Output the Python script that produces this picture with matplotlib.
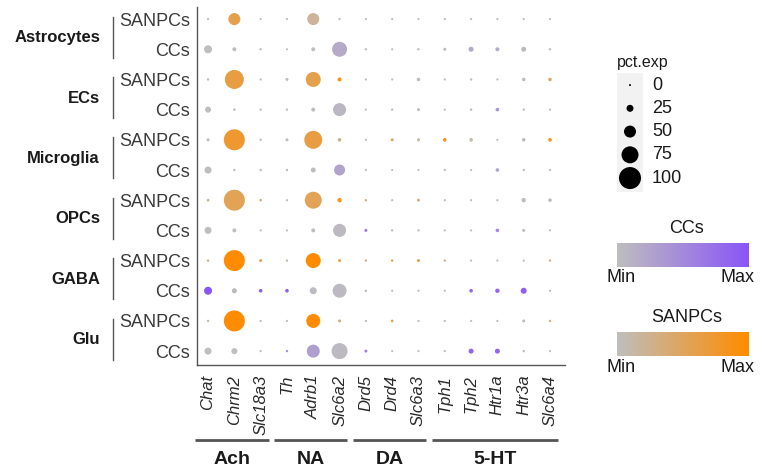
import numpy as np
import matplotlib
matplotlib.use("Agg")
import matplotlib.pyplot as plt
from matplotlib.colors import LinearSegmentedColormap
from matplotlib.transforms import blended_transform_factory

plt.rcParams['font.family'] = ['Liberation Sans', 'DejaVu Sans']

# data
cell_types = ["Astrocytes", "ECs", "Microglia", "OPCs", "GABA", "Glu"]
conditions = ["SANPCs", "CCs"]
genes = ["Chat", "Chrm2", "Slc18a3", "Th", "Adrb1", "Slc6a2", "Drd5", "Drd4",
         "Slc6a3", "Tph1", "Tph2", "Htr1a", "Htr3a", "Slc6a4"]
gene_groups = [("Ach", 0, 2), ("NA", 3, 5), ("DA", 6, 8), ("5-HT", 9, 13)]

# percent of cells expressing (rows follow cell_types)
pct_sanpcs = [
    [1, 50, 1, 1, 50, 1, 1, 1, 1, 1, 1, 1, 1, 1],
    [2, 85, 1, 5, 65, 10, 1, 1, 8, 1, 2, 1, 8, 8],
    [5, 95, 2, 5, 80, 8, 1, 5, 5, 8, 8, 1, 8, 8],
    [3, 95, 3, 1, 75, 12, 2, 1, 5, 1, 1, 1, 12, 8],
    [2, 95, 5, 2, 65, 5, 2, 2, 5, 2, 1, 1, 1, 2],
    [2, 95, 1, 1, 60, 5, 1, 3, 1, 1, 1, 1, 5, 2],
]
pct_ccs = [
    [30, 10, 2, 1, 10, 65, 2, 1, 2, 5, 15, 10, 15, 2],
    [20, 3, 2, 2, 10, 55, 1, 2, 5, 1, 2, 8, 2, 1],
    [25, 2, 2, 2, 15, 45, 1, 1, 1, 2, 1, 8, 2, 1],
    [25, 10, 1, 1, 10, 55, 5, 2, 2, 1, 1, 8, 5, 1],
    [30, 15, 8, 8, 25, 60, 2, 1, 1, 1, 8, 12, 20, 1],
    [25, 20, 1, 2, 55, 70, 5, 1, 1, 1, 15, 15, 2, 1],
]
# scaled average expression (0 = min, 1 = max)
expr_sanpcs = [
    [0.0, 0.6, 0.0, 0.0, 0.2, 0.05, 0.0, 0.0, 0.0, 0.0, 0.0, 0.0, 0.0, 0.0],
    [0.05, 0.65, 0.05, 0.05, 0.6, 0.9, 0.05, 0.05, 0.0, 0.05, 0.05, 0.05, 0.0, 0.4],
    [0.05, 0.75, 0.05, 0.05, 0.65, 0.3, 0.05, 0.5, 0.1, 0.9, 0.1, 0.05, 0.05, 0.9],
    [0.3, 0.55, 0.3, 0.05, 0.55, 0.85, 0.3, 0.05, 0.3, 0.05, 0.05, 0.05, 0.0, 0.05],
    [0.3, 1.0, 0.6, 0.1, 1.0, 0.6, 0.3, 0.7, 0.6, 0.3, 0.05, 0.05, 0.05, 0.3],
    [0.1, 1.0, 0.1, 0.05, 1.0, 0.4, 0.1, 0.7, 0.05, 0.05, 0.05, 0.05, 0.0, 0.3],
]
expr_ccs = [
    [0.0, 0.0, 0.0, 0.0, 0.0, 0.18, 0.0, 0.0, 0.0, 0.05, 0.2, 0.2, 0.03, 0.0],
    [0.0, 0.0, 0.0, 0.0, 0.0, 0.08, 0.0, 0.0, 0.0, 0.0, 0.05, 0.4, 0.0, 0.0],
    [0.0, 0.0, 0.0, 0.0, 0.0, 0.25, 0.0, 0.0, 0.0, 0.0, 0.0, 0.25, 0.0, 0.0],
    [0.0, 0.0, 0.0, 0.0, 0.0, 0.05, 0.7, 0.0, 0.0, 0.0, 0.0, 0.5, 0.05, 0.0],
    [1.0, 0.05, 0.9, 0.9, 0.05, 0.05, 0.1, 0.0, 0.0, 0.0, 0.8, 0.85, 0.9, 0.05],
    [0.0, 0.0, 0.0, 0.5, 0.3, 0.05, 0.6, 0.0, 0.0, 0.0, 0.85, 0.85, 0.05, 0.0],
]
legend_pct = [0, 25, 50, 75, 100]

W, H = 767, 472
fig = plt.figure(figsize=(W / 100, H / 100), dpi=100)


def fx(px):
    return px / W


def fy(py):
    return 1 - py / H


def dot_size(p):
    # diameter grows linearly with pct (like scale_radius)
    return ((2 + 0.2 * np.asarray(p, dtype=float)) * 0.72) ** 2


cmap_cc = LinearSegmentedColormap.from_list("cc", ["#BEBEBE", "#8A55F7"])
cmap_sa = LinearSegmentedColormap.from_list("sa", ["#BEBEBE", "#FF8C00"])

ax = fig.add_axes([fx(197), fy(365), fx(565) - fx(197), fy(7) - fy(365)])
xs = np.arange(len(genes))
for i in range(len(cell_types)):
    for j, (pct, expr, cmap) in enumerate([(pct_sanpcs, expr_sanpcs, cmap_sa),
                                           (pct_ccs, expr_ccs, cmap_cc)]):
        y = 2 * i + j
        ax.scatter(xs, np.full(len(genes), y), s=dot_size(pct[i]),
                   c=cmap(np.array(expr[i])), linewidths=0, zorder=3)

ax.set_xlim(-0.42, 13.57)
ax.set_ylim(11.46, -0.4)
ax.set_yticks(range(2 * len(cell_types)))
ax.set_yticklabels(conditions * len(cell_types), fontsize=13, color="#3a3a3a")
ax.set_xticks(xs)
ax.set_xticklabels(genes, rotation=90, fontsize=12, style="italic",
                   color="#2a2a2a", va="top", ha="center")
ax.tick_params(axis="y", length=0, pad=5)
ax.tick_params(axis="x", length=0, pad=7)
for side in ["top", "right"]:
    ax.spines[side].set_visible(False)
for side in ["left", "bottom"]:
    ax.spines[side].set_color("#555555")
    ax.spines[side].set_linewidth(1)

# cell type labels with brackets
trans = blended_transform_factory(fig.transFigure, ax.transData)
for i, ct in enumerate(cell_types):
    ax.text(fx(100), 2 * i + 0.62, ct, transform=trans, ha="right", va="center",
            fontsize=12, fontweight="bold", color="#1a1a1a")
    ax.plot([fx(113), fx(113)], [2 * i - 0.08, 2 * i + 1.28], transform=trans,
            color="#555555", lw=1, clip_on=False)

# gene group bars
trans2 = blended_transform_factory(ax.transData, fig.transFigure)
for name, s, e in gene_groups:
    x0, x1 = s - 0.48, e + 0.3
    ax.plot([x0, x1], [fy(440), fy(440)], transform=trans2, color="#555555",
            lw=2, clip_on=False, solid_capstyle="butt")
    ax.text((x0 + x1) / 2, fy(459), name, transform=trans2, ha="center",
            va="center", fontsize=14, fontweight="bold", color="#1a1a1a")

# size legend
lax = fig.add_axes([fx(617), fy(192), fx(643) - fx(617), fy(73) - fy(192)])
lax.set_facecolor("#F2F2F2")
for sp in lax.spines.values():
    sp.set_visible(False)
lax.set_xticks([])
lax.set_yticks([])
lax.set_xlim(-1, 1)
lax.set_ylim(4.6, -0.52)
lax.scatter(np.zeros(len(legend_pct)), np.arange(len(legend_pct)),
            s=dot_size(legend_pct), c="black", linewidths=0)
for k, p in enumerate(legend_pct):
    lax.text(fx(652), k, str(p), transform=blended_transform_factory(fig.transFigure, lax.transData),
             ha="left", va="center", fontsize=13, color="#1a1a1a")
fig.text(fx(617), fy(62), "pct.exp", ha="left", va="center", fontsize=11.5, color="#1a1a1a")

# colour bars
gradient = np.linspace(0, 1, 256)[None, :]
for title, cmap, top in [("CCs", cmap_cc, 243), ("SANPCs", cmap_sa, 332)]:
    cax = fig.add_axes([fx(617), fy(top + 24), fx(749) - fx(617), fy(top) - fy(top + 24)])
    cax.imshow(gradient, aspect="auto", cmap=cmap)
    cax.axis("off")
    fig.text(fx(687), fy(top - 15), title, ha="center", va="center", fontsize=13, color="#1a1a1a")
    fig.text(fx(607), fy(top + 35), "Min", ha="left", va="center", fontsize=13, color="#1a1a1a")
    fig.text(fx(755), fy(top + 35), "Max", ha="right", va="center", fontsize=13, color="#1a1a1a")

fig.savefig("out.png", dpi=100)
